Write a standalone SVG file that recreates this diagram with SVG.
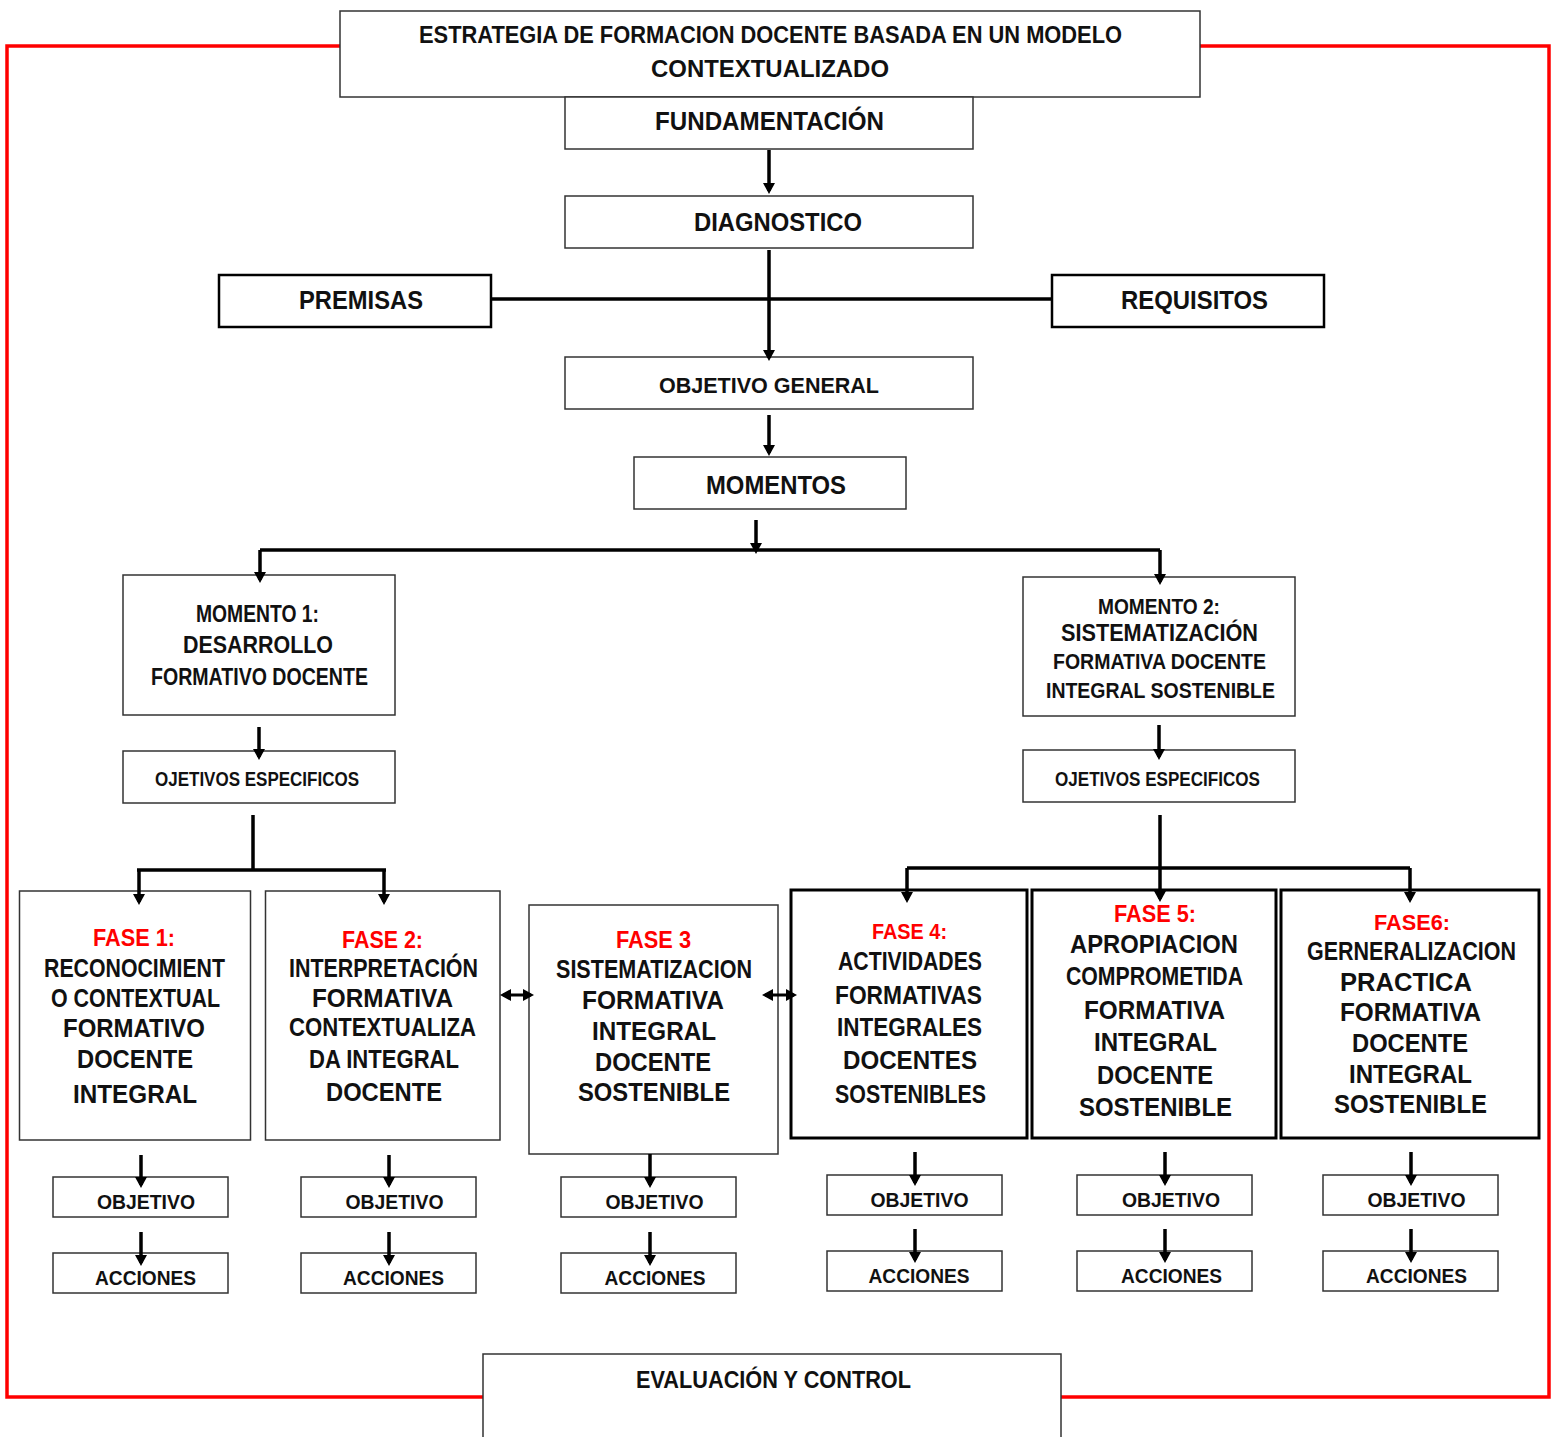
<svg xmlns="http://www.w3.org/2000/svg" width="1559" height="1437" viewBox="0 0 1559 1437">
<style>
  .bx{fill:#fff;stroke:#333;stroke-width:1.5}
  .bk{fill:#fff;stroke:#000;stroke-width:2.5}
  .bf{fill:#fff;stroke:#000;stroke-width:3}
  text{font-family:"Liberation Sans Narrow","Liberation Sans",Arial,sans-serif;font-weight:bold;fill:#111;text-anchor:middle}
  .t24{font-size:24px}
  .t25{font-size:25px}
  .t22{font-size:22px}
  .t23{font-size:23px}
  .t20{font-size:20px}
  .t21{font-size:21px}
  .red{fill:#ff0000}
  .cn path{fill:none;stroke:#000;stroke-width:3.5}
  .ar{marker-end:url(#ah)}
  .dar{marker-start:url(#ah);marker-end:url(#ah)}
</style>
<defs>
  <marker id="ah" viewBox="0 0 11 12" refX="8" refY="6" markerWidth="11" markerHeight="12" markerUnits="userSpaceOnUse" orient="auto-start-reverse">
    <path d="M0,0 L11,6 L0,12 z" fill="#000"/>
  </marker>
</defs>
<rect width="1559" height="1437" fill="#fff"/>
<rect x="7" y="46" width="1542" height="1351" fill="none" stroke="#ff0000" stroke-width="3.5"/>

<g id="titulo">
  <rect class="bx" x="340" y="11" width="860" height="86"/>
  <text class="t24" x="770.5" y="43" textLength="703" lengthAdjust="spacingAndGlyphs">ESTRATEGIA DE FORMACION DOCENTE BASADA EN UN MODELO</text>
  <text class="t24" x="770" y="77" textLength="238" lengthAdjust="spacingAndGlyphs">CONTEXTUALIZADO</text>
</g>
<g id="fundamentacion">
  <rect class="bx" x="565" y="97" width="408" height="52"/>
  <text class="t25" x="769.5" y="130" textLength="229" lengthAdjust="spacingAndGlyphs">FUNDAMENTACIÓN</text>
</g>
<g id="diagnostico">
  <rect class="bx" x="565" y="196" width="408" height="52"/>
  <text class="t25" x="778" y="231" textLength="168" lengthAdjust="spacingAndGlyphs">DIAGNOSTICO</text>
</g>
<g id="premisas">
  <rect class="bk" x="219" y="275" width="272" height="52"/>
  <text class="t25" x="361" y="309" textLength="124" lengthAdjust="spacingAndGlyphs">PREMISAS</text>
</g>
<g id="requisitos">
  <rect class="bk" x="1052" y="275" width="272" height="52"/>
  <text class="t25" x="1194.5" y="309" textLength="147" lengthAdjust="spacingAndGlyphs">REQUISITOS</text>
</g>
<g id="objetivo-general">
  <rect class="bx" x="565" y="357" width="408" height="52"/>
  <text class="t22" x="769" y="393" textLength="220" lengthAdjust="spacingAndGlyphs">OBJETIVO GENERAL</text>
</g>
<g id="momentos">
  <rect class="bx" x="634" y="457" width="272" height="52"/>
  <text class="t25" x="776" y="494" textLength="140" lengthAdjust="spacingAndGlyphs">MOMENTOS</text>
</g>
<g id="momento1">
  <rect class="bx" x="123" y="575" width="272" height="140"/>
  <text class="t23" x="257.5" y="622" textLength="123" lengthAdjust="spacingAndGlyphs">MOMENTO 1:</text>
  <text class="t23" x="258" y="653" textLength="150" lengthAdjust="spacingAndGlyphs">DESARROLLO</text>
  <text class="t23" x="259.5" y="685" textLength="217" lengthAdjust="spacingAndGlyphs">FORMATIVO DOCENTE</text>
</g>
<g id="objesp1">
  <rect class="bx" x="123" y="751" width="272" height="52"/>
  <text class="t20" x="257" y="786" textLength="204" lengthAdjust="spacingAndGlyphs">OJETIVOS ESPECIFICOS</text>
</g>
<g id="momento2">
  <rect class="bx" x="1023" y="577" width="272" height="139"/>
  <text class="t22" x="1159" y="614" textLength="122" lengthAdjust="spacingAndGlyphs">MOMENTO 2:</text>
  <text class="t23" x="1159.5" y="641" textLength="197" lengthAdjust="spacingAndGlyphs">SISTEMATIZACIÓN</text>
  <text class="t22" x="1159.5" y="669" textLength="213" lengthAdjust="spacingAndGlyphs">FORMATIVA DOCENTE</text>
  <text class="t22" x="1160.5" y="698" textLength="229" lengthAdjust="spacingAndGlyphs">INTEGRAL SOSTENIBLE</text>
</g>
<g id="objesp2">
  <rect class="bx" x="1023" y="750" width="272" height="52"/>
  <text class="t20" x="1157.5" y="786" textLength="205" lengthAdjust="spacingAndGlyphs">OJETIVOS ESPECIFICOS</text>
</g>

<g id="fase1">
  <rect class="bx" x="19.5" y="891" width="231" height="249"/>
  <text class="t24 red" x="134" y="946" textLength="82" lengthAdjust="spacingAndGlyphs">FASE 1:</text>
  <text class="t25" x="134.5" y="977" textLength="181" lengthAdjust="spacingAndGlyphs">RECONOCIMIENT</text>
  <text class="t25" x="135.5" y="1007" textLength="169" lengthAdjust="spacingAndGlyphs">O CONTEXTUAL</text>
  <text class="t25" x="134" y="1037" textLength="142" lengthAdjust="spacingAndGlyphs">FORMATIVO</text>
  <text class="t25" x="135" y="1068" textLength="116" lengthAdjust="spacingAndGlyphs">DOCENTE</text>
  <text class="t25" x="135" y="1103" textLength="124" lengthAdjust="spacingAndGlyphs">INTEGRAL</text>
</g>
<g id="fase2">
  <rect class="bx" x="265.5" y="891" width="234.5" height="249"/>
  <text class="t24 red" x="382.5" y="948" textLength="81" lengthAdjust="spacingAndGlyphs">FASE 2:</text>
  <text class="t25" x="383.5" y="977" textLength="189" lengthAdjust="spacingAndGlyphs">INTERPRETACIÓN</text>
  <text class="t25" x="382.5" y="1007" textLength="141" lengthAdjust="spacingAndGlyphs">FORMATIVA</text>
  <text class="t25" x="382.5" y="1036" textLength="187" lengthAdjust="spacingAndGlyphs">CONTEXTUALIZA</text>
  <text class="t25" x="384" y="1068" textLength="150" lengthAdjust="spacingAndGlyphs">DA INTEGRAL</text>
  <text class="t25" x="384" y="1101" textLength="116" lengthAdjust="spacingAndGlyphs">DOCENTE</text>
</g>
<g id="fase3">
  <rect class="bx" x="529" y="905" width="249" height="249"/>
  <text class="t24 red" x="653.5" y="948" textLength="75" lengthAdjust="spacingAndGlyphs">FASE 3</text>
  <text class="t25" x="654" y="978" textLength="196" lengthAdjust="spacingAndGlyphs">SISTEMATIZACION</text>
  <text class="t25" x="653" y="1009" textLength="142" lengthAdjust="spacingAndGlyphs">FORMATIVA</text>
  <text class="t25" x="654" y="1040" textLength="124" lengthAdjust="spacingAndGlyphs">INTEGRAL</text>
  <text class="t25" x="653" y="1071" textLength="116" lengthAdjust="spacingAndGlyphs">DOCENTE</text>
  <text class="t25" x="654" y="1101" textLength="152" lengthAdjust="spacingAndGlyphs">SOSTENIBLE</text>
</g>
<g id="fase4">
  <rect class="bf" x="791" y="890" width="236" height="248"/>
  <text class="t22 red" x="909.5" y="939" textLength="75" lengthAdjust="spacingAndGlyphs">FASE 4:</text>
  <text class="t25" x="910" y="970" textLength="144" lengthAdjust="spacingAndGlyphs">ACTIVIDADES</text>
  <text class="t25" x="908.5" y="1004" textLength="147" lengthAdjust="spacingAndGlyphs">FORMATIVAS</text>
  <text class="t25" x="909.5" y="1036" textLength="145" lengthAdjust="spacingAndGlyphs">INTEGRALES</text>
  <text class="t25" x="910" y="1069" textLength="134" lengthAdjust="spacingAndGlyphs">DOCENTES</text>
  <text class="t25" x="910.5" y="1103" textLength="151" lengthAdjust="spacingAndGlyphs">SOSTENIBLES</text>
</g>
<g id="fase5">
  <rect class="bf" x="1032" y="890" width="244" height="248"/>
  <text class="t24 red" x="1155" y="922" textLength="82" lengthAdjust="spacingAndGlyphs">FASE 5:</text>
  <text class="t25" x="1154" y="953" textLength="168" lengthAdjust="spacingAndGlyphs">APROPIACION</text>
  <text class="t25" x="1154.5" y="985" textLength="177" lengthAdjust="spacingAndGlyphs">COMPROMETIDA</text>
  <text class="t25" x="1154.5" y="1019" textLength="141" lengthAdjust="spacingAndGlyphs">FORMATIVA</text>
  <text class="t25" x="1155.5" y="1051" textLength="123" lengthAdjust="spacingAndGlyphs">INTEGRAL</text>
  <text class="t25" x="1155" y="1084" textLength="116" lengthAdjust="spacingAndGlyphs">DOCENTE</text>
  <text class="t25" x="1155.5" y="1116" textLength="153" lengthAdjust="spacingAndGlyphs">SOSTENIBLE</text>
</g>
<g id="fase6">
  <rect class="bf" x="1281" y="890" width="258" height="248"/>
  <text class="t22 red" x="1412" y="930" textLength="76" lengthAdjust="spacingAndGlyphs">FASE6:</text>
  <text class="t25" x="1411.5" y="960" textLength="209" lengthAdjust="spacingAndGlyphs">GERNERALIZACION</text>
  <text class="t25" x="1406" y="991" textLength="132" lengthAdjust="spacingAndGlyphs">PRACTICA</text>
  <text class="t25" x="1410.5" y="1021" textLength="141" lengthAdjust="spacingAndGlyphs">FORMATIVA</text>
  <text class="t25" x="1410" y="1052" textLength="116" lengthAdjust="spacingAndGlyphs">DOCENTE</text>
  <text class="t25" x="1410.5" y="1083" textLength="123" lengthAdjust="spacingAndGlyphs">INTEGRAL</text>
  <text class="t25" x="1410.5" y="1113" textLength="153" lengthAdjust="spacingAndGlyphs">SOSTENIBLE</text>
</g>

<g id="obj1"><rect class="bx" x="53" y="1177" width="175" height="40"/><text class="t21" x="146" y="1209" textLength="98" lengthAdjust="spacingAndGlyphs">OBJETIVO</text></g>
<g id="acc1"><rect class="bx" x="53" y="1253" width="175" height="40"/><text class="t21" x="145.5" y="1285" textLength="101" lengthAdjust="spacingAndGlyphs">ACCIONES</text></g>
<g id="obj2"><rect class="bx" x="301" y="1177" width="175" height="40"/><text class="t21" x="394.5" y="1209" textLength="98" lengthAdjust="spacingAndGlyphs">OBJETIVO</text></g>
<g id="acc2"><rect class="bx" x="301" y="1253" width="175" height="40"/><text class="t21" x="393.5" y="1285" textLength="101" lengthAdjust="spacingAndGlyphs">ACCIONES</text></g>
<g id="obj3"><rect class="bx" x="561" y="1177" width="175" height="40"/><text class="t21" x="654.5" y="1209" textLength="98" lengthAdjust="spacingAndGlyphs">OBJETIVO</text></g>
<g id="acc3"><rect class="bx" x="561" y="1253" width="175" height="40"/><text class="t21" x="655" y="1285" textLength="101" lengthAdjust="spacingAndGlyphs">ACCIONES</text></g>
<g id="obj4"><rect class="bx" x="827" y="1175" width="175" height="40"/><text class="t21" x="919.5" y="1207" textLength="98" lengthAdjust="spacingAndGlyphs">OBJETIVO</text></g>
<g id="acc4"><rect class="bx" x="827" y="1251" width="175" height="40"/><text class="t21" x="919" y="1283" textLength="101" lengthAdjust="spacingAndGlyphs">ACCIONES</text></g>
<g id="obj5"><rect class="bx" x="1077" y="1175" width="175" height="40"/><text class="t21" x="1171" y="1207" textLength="98" lengthAdjust="spacingAndGlyphs">OBJETIVO</text></g>
<g id="acc5"><rect class="bx" x="1077" y="1251" width="175" height="40"/><text class="t21" x="1171.5" y="1283" textLength="101" lengthAdjust="spacingAndGlyphs">ACCIONES</text></g>
<g id="obj6"><rect class="bx" x="1323" y="1175" width="175" height="40"/><text class="t21" x="1416.5" y="1207" textLength="98" lengthAdjust="spacingAndGlyphs">OBJETIVO</text></g>
<g id="acc6"><rect class="bx" x="1323" y="1251" width="175" height="40"/><text class="t21" x="1416.5" y="1283" textLength="101" lengthAdjust="spacingAndGlyphs">ACCIONES</text></g>

<g id="evaluacion">
  <rect class="bx" x="483" y="1354" width="578" height="90"/>
  <text class="t24" x="773.5" y="1388" textLength="275" lengthAdjust="spacingAndGlyphs">EVALUACIÓN Y CONTROL</text>
</g>

<g class="cn" id="conectores">
  <path class="ar" d="M769,150 V191"/>
  <path class="ar" d="M769,250 V358"/>
  <path d="M491,299 H1052"/>
  <path class="ar" d="M769,415 V453"/>
  <path class="ar" d="M756,520 V551"/>
  <path d="M260,550 H1160"/>
  <path class="ar" d="M260,550 V580"/>
  <path class="ar" d="M1160,550 V582"/>
  <path class="ar" d="M259,727 V757"/>
  <path class="ar" d="M1159,725 V757"/>
  <path d="M253,815 V870 M137,870 H386"/>
  <path class="ar" d="M139,870 V902"/>
  <path class="ar" d="M384,870 V902"/>
  <path class="ar" d="M1160,815 V899"/>
  <path d="M907,868 H1410"/>
  <path class="ar" d="M907,868 V900"/>
  <path class="ar" d="M1410,868 V900"/>
  <path class="dar" d="M503,995 H531" style="stroke-width:3"/>
  <path class="dar" d="M765,995 H794" style="stroke-width:3"/>
  <path class="ar" d="M141,1155 V1185"/>
  <path class="ar" d="M141,1232 V1263"/>
  <path class="ar" d="M389,1155 V1185"/>
  <path class="ar" d="M389,1232 V1263"/>
  <path class="ar" d="M650,1154 V1185"/>
  <path class="ar" d="M650,1232 V1263"/>
  <path class="ar" d="M915,1152 V1183"/>
  <path class="ar" d="M915,1229 V1260"/>
  <path class="ar" d="M1165,1152 V1183"/>
  <path class="ar" d="M1165,1229 V1260"/>
  <path class="ar" d="M1411,1152 V1183"/>
  <path class="ar" d="M1411,1229 V1260"/>
</g>
</svg>
